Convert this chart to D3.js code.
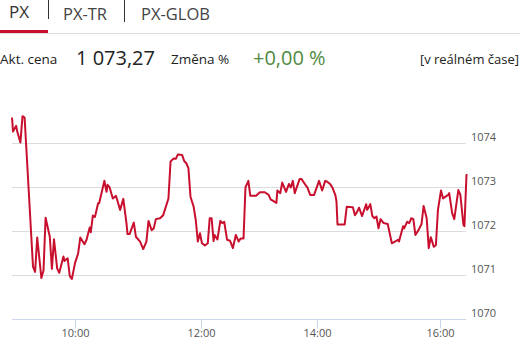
<!DOCTYPE html>
<html>
<head>
<meta charset="utf-8">
<script src="https://cdn.jsdelivr.net/npm/d3@7"></script>
<style>
  html, body { margin: 0; padding: 0; background: #fff; }
  svg { display: block; font-family: "Open Sans", "Noto Sans", sans-serif; }
</style>
</head>
<body>
<svg id="chart" width="526" height="344"></svg>
<script>
// ---- data ----
const tabs = ["PX", "PX-TR", "PX-GLOB"];
const priceLabel = "Akt. cena";
const priceValue = "1 073,27";
const changeLabel = "Změna %";
const changeValue = "+0,00 %";
const realtimeLabel = "[v reálném čase]";

const times = ["9:00","9:01","9:04","9:05","9:08","9:10","9:12","9:20","9:22","9:24","9:28","9:30","9:32","9:36","9:38","9:40","9:43","9:45","9:49","9:50","9:53","9:55","9:57",
"10:00","10:03","10:05","10:09","10:11","10:14","10:15","10:17","10:19","10:22","10:23","10:28","10:30","10:31","10:33","10:36","10:39","10:43","10:46","10:49","10:50","10:52","10:56","10:58",
"11:02","11:05","11:08","11:10","11:13","11:15","11:17","11:21","11:24","11:29","11:31","11:34","11:36","11:38","11:42","11:44","11:46","11:48","11:50","11:53","11:55","11:57","11:59",
"12:01","12:04","12:07","12:09","12:11","12:13","12:14","12:17","12:20","12:22","12:24","12:27","12:30","12:33","12:36","12:39","12:41","12:44","12:46","12:49","12:51","12:57",
"13:01","13:06","13:10","13:12","13:18","13:19","13:22","13:24","13:28","13:31","13:33","13:35","13:37","13:42","13:44","13:48","13:50","13:53","13:57",
"14:02","14:05","14:08","14:10","14:13","14:15","14:18","14:19","14:20","14:27","14:29","14:35","14:37","14:39","14:41","14:44","14:48","14:49","14:52","14:54","14:56","14:58",
"15:00","15:02","15:05","15:09","15:13","15:16","15:19","15:20","15:24","15:25","15:28","15:30","15:32","15:34","15:36","15:39","15:42","15:44","15:47","15:49","15:51","15:54","15:56","15:58",
"16:01","16:03","16:08","16:09","16:12","16:14","16:18","16:20","16:23","16:24","16:26","16:27"];

const values = [1074.58,1074.26,1074.39,1074.26,1074.01,1074.61,1074.58,1071.19,1071.07,1071.85,1070.93,1071.10,1072.30,1071.87,1071.14,1071.81,1071.15,1071.05,1071.42,1071.32,1071.38,1070.98,1070.91,
1071.27,1071.49,1071.85,1071.70,1071.80,1072.08,1071.97,1072.35,1072.32,1072.63,1072.63,1073.14,1072.89,1073.05,1072.99,1072.74,1072.80,1072.48,1072.73,1072.18,1071.93,1071.93,1072.19,1071.87,
1071.76,1071.59,1071.76,1072.23,1072.02,1072.06,1072.27,1072.29,1072.36,1072.74,1073.58,1073.65,1073.64,1073.74,1073.73,1073.59,1073.54,1073.43,1072.78,1072.55,1072.25,1071.76,1071.95,
1071.72,1071.67,1071.72,1072.29,1072.29,1071.77,1071.91,1071.81,1072.23,1072.18,1072.21,1071.80,1071.78,1071.61,1071.91,1071.76,1071.83,1071.83,1072.99,1073.14,1072.80,1072.80,
1072.88,1072.88,1072.82,1072.72,1072.64,1072.92,1072.86,1073.10,1072.89,1073.07,1072.99,1073.14,1072.86,1073.18,1073.18,1073.05,1072.99,1072.82,1072.82,
1073.14,1072.92,1073.14,1073.12,1073.06,1072.99,1072.81,1072.67,1072.15,1072.15,1072.55,1072.54,1072.36,1072.43,1072.53,1072.34,1072.61,1072.48,1072.61,1072.34,1072.29,1072.33,
1072.06,1072.27,1072.18,1072.16,1071.72,1071.76,1071.80,1071.76,1072.11,1072.06,1072.21,1072.18,1072.29,1072.27,1071.91,1072.02,1072.16,1072.57,1072.29,1071.61,1071.86,1071.64,1071.68,1072.48,
1072.92,1072.74,1072.82,1072.86,1072.40,1072.27,1072.93,1072.82,1072.14,1072.11,1073.27,1073.27];

const yTicks = [1070, 1071, 1072, 1073, 1074];
const xTickLabels = ["10:00", "12:00", "14:00", "16:00"];
const xBreaks = ["9:00", "10:00", "12:00", "14:00", "16:00", "16:27"];

// ---- setup ----
const parse = d3.timeParse("%H:%M");
const data = times.map((t, i) => ({ t: parse(t), v: values[i] }));
const svg = d3.select("#chart");

const red = "#c8102e";

// header tabs
const tabX = [9, 63, 141];
const tabSizes = [17, 16.5, 16.5];
svg.selectAll("text.tab").data(tabs).join("text")
  .attr("class", "tab")
  .attr("x", (d, i) => tabX[i])
  .attr("y", (d, i) => i === 0 ? 18 : 19.5)
  .attr("font-size", (d, i) => tabSizes[i])
  .attr("fill", (d, i) => i === 0 ? "#333" : "#444")
  .text(d => d);
svg.append("line").attr("x1", 48.5).attr("x2", 48.5).attr("y1", 0).attr("y2", 19).attr("stroke", "#333");
svg.append("line").attr("x1", 124.5).attr("x2", 124.5).attr("y1", 0).attr("y2", 22).attr("stroke", "#333");
svg.append("rect").attr("x", 0).attr("y", 33).attr("width", 520).attr("height", 1).attr("fill", "#ddd");
svg.append("rect").attr("x", 0).attr("y", 30).attr("width", 48).attr("height", 3).attr("fill", red);

// price row
svg.append("text").attr("x", 0).attr("y", 64).attr("font-size", 13.5).attr("fill", "#222").text(priceLabel);
svg.append("text").attr("x", 76).attr("y", 64.5).attr("font-size", 20).attr("fill", "#222").text(priceValue);
svg.append("text").attr("x", 171).attr("y", 64).attr("font-size", 13.5).attr("fill", "#222").text(changeLabel);
svg.append("text").attr("x", 253).attr("y", 64.5).attr("font-size", 20).attr("fill", "#4f8a3f").text(changeValue);
svg.append("text").attr("x", 519).attr("y", 64).attr("text-anchor", "end").attr("font-size", 13).attr("fill", "#222").text(realtimeLabel);

// scales
const x = d3.scaleTime()
  .domain(xBreaks.map(parse))
  .range([12, 75, 201, 317, 440, 467.5]);
const y = d3.scaleLinear().domain([1070, 1074]).range([319, 143]);

// gridlines
svg.append("g").selectAll("line").data(yTicks.filter(d => d !== 1070)).join("line")
  .attr("x1", 12).attr("x2", 466)
  .attr("y1", d => Math.round(y(d)) + 0.5).attr("y2", d => Math.round(y(d)) + 0.5)
  .attr("stroke", "#dcdcdc");

// y labels
svg.append("g").selectAll("text").data(yTicks).join("text")
  .attr("x", 471).attr("y", d => y(d) - 2.5)
  .attr("font-size", 11).attr("fill", "#555")
  .text(d => d);

// x axis
const xAxis = d3.axisBottom(x)
  .tickValues(xTickLabels.map(parse))
  .tickFormat(d3.timeFormat("%H:%M"))
  .tickSize(9).tickSizeOuter(0);
const gx = svg.append("g").attr("transform", "translate(0,319.5)").call(xAxis);
gx.select(".domain").attr("stroke", "#ccd6eb").attr("d", "M12,0H466");
gx.selectAll(".tick line").attr("stroke", "#ccd6eb");
gx.selectAll(".tick text").attr("font-size", 11).attr("fill", "#555")
  .attr("font-family", "\"Open Sans\", sans-serif").attr("y", 10).attr("dy", "0.71em");

// line
const line = d3.line().x(d => x(d.t)).y(d => y(d.v));
svg.append("path").datum(data)
  .attr("fill", "none").attr("stroke", red).attr("stroke-width", 2)
  .attr("stroke-linejoin", "round").attr("d", line);
</script>
</body>
</html>
